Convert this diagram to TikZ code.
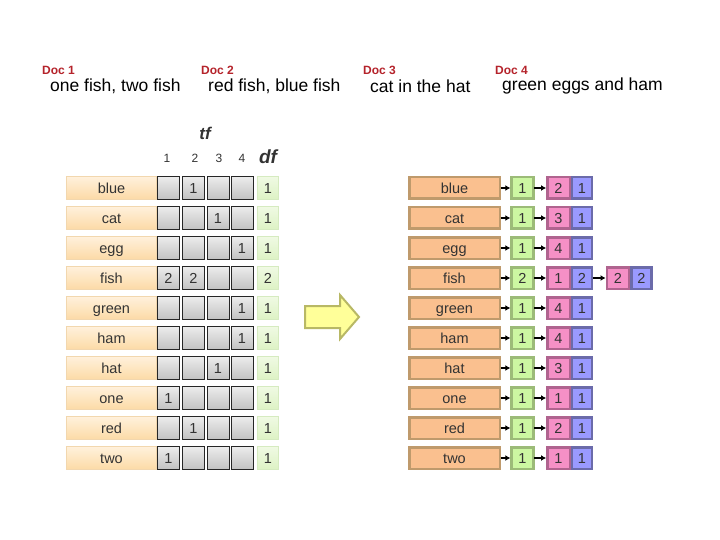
\documentclass[tikz,border=0pt]{standalone}
\usepackage{fontspec}
\setmainfont{Liberation Sans}
\usetikzlibrary{arrows.meta}
\definecolor{docred}{HTML}{B5232B}
\definecolor{txt}{HTML}{333333}
\definecolor{ltfill1}{HTML}{FFF1DC}
\definecolor{ltfill2}{HTML}{FCDAA6}
\definecolor{ltdraw}{HTML}{F2D7AE}
\definecolor{ldf1}{HTML}{F0FAE4}
\definecolor{ldf2}{HTML}{DDF2C4}
\definecolor{ldfdraw}{HTML}{D6EBC0}
\definecolor{rtfill}{HTML}{FAC08F}
\definecolor{rtdraw}{HTML}{BF9A6C}
\definecolor{rdffill}{HTML}{CCF7A2}
\definecolor{rdfdraw}{HTML}{9CBB78}
\definecolor{pkfill}{HTML}{F590C6}
\definecolor{pkdraw}{HTML}{B0648F}
\definecolor{blfill}{HTML}{9A9AFF}
\definecolor{bldraw}{HTML}{6B6BAA}
\definecolor{arrfill}{HTML}{FFFF99}
\definecolor{arrdraw}{HTML}{B8B865}
\tikzset{
  cellfont/.style={font=\fontsize{14.5}{14.5}\selectfont, text=txt, text height=10.5pt, text depth=0pt},
  lterm/.style={cellfont, draw=ltdraw, top color=ltfill1, bottom color=ltfill2, minimum width=90pt, minimum height=23pt, inner sep=0pt, line width=0.8pt},
  tfcell/.style={cellfont, draw=black!85, top color=gray!15, bottom color=gray!48, minimum width=22pt, minimum height=22.5pt, inner sep=0pt, line width=0.9pt},
  ldf/.style={cellfont, draw=ldfdraw, top color=ldf1, bottom color=ldf2, minimum width=21.5pt, minimum height=23pt, inner sep=0pt, line width=0.8pt},
  rterm/.style={cellfont, draw=rtdraw, fill=rtfill, line width=2.5pt, minimum width=90.5pt, minimum height=21.5pt, inner sep=0pt},
  rdf/.style={cellfont, draw=rdfdraw, fill=rdffill, line width=2.5pt, minimum width=22pt, minimum height=21.5pt, inner sep=0pt},
  pk/.style={cellfont, draw=pkdraw, fill=pkfill, line width=2.5pt, minimum width=22.5pt, minimum height=21.5pt, inner sep=0pt},
  bl/.style={cellfont, draw=bldraw, fill=blfill, line width=2.5pt, minimum width=20pt, minimum height=21.5pt, inner sep=0pt},
  link/.style={-{Latex[length=5pt,width=6pt]}, line width=1.5pt, black, shorten <=-0.5pt},
  doclabel/.style={anchor=west, inner sep=0pt, text=docred, font=\bfseries\fontsize{12}{12}\selectfont},
  doctext/.style={anchor=west, inner sep=0pt, font=\fontsize{17.5}{17.5}\selectfont},
  hdrnum/.style={inner sep=0pt, font=\fontsize{12}{12}\selectfont, text=txt},
  hdr/.style={inner sep=0pt, font=\bfseries\itshape\fontsize{17}{17}\selectfont, text=txt}
}
\begin{document}
\begin{tikzpicture}[x=1pt,y=-1pt]
\useasboundingbox[fill=white] (0,0) rectangle (720,540);
% documents
\node[doclabel] (d1) at (42,70) {Doc 1};
\node[doctext] (t1) at (50,86) {one fish, two fish};
\node[doclabel] (d2) at (201,70) {Doc 2};
\node[doctext] (t2) at (208,86) {red fish, blue fish};
\node[doclabel] (d3) at (363,70) {Doc 3};
\node[doctext] (t3) at (370,86) {cat in the hat};
\node[doclabel] (d4) at (495,70) {Doc 4};
\node[doctext] (t4) at (502,86) {green eggs and ham};
% headers
\node[hdr] (tf) at (205,133) {tf};
\node[hdrnum] (h1) at (167,158) {1};
\node[hdrnum] (h2) at (195,158) {2};
\node[hdrnum] (h3) at (219,158) {3};
\node[hdrnum] (h4) at (242,158) {4};
\node[hdr, font=\bfseries\itshape\fontsize{19}{19}\selectfont] (df) at (268,157) {df};
% rows
\foreach \t/\a/\b/\c/\d/\f/\p/\q [count=\i] in {
  blue/{}/1/{}/{}/1/2/1,
  cat/{}/{}/1/{}/1/3/1,
  egg/{}/{}/{}/1/1/4/1,
  fish/2/2/{}/{}/2/1/2,
  green/{}/{}/{}/1/1/4/1,
  ham/{}/{}/{}/1/1/4/1,
  hat/{}/{}/1/{}/1/3/1,
  one/1/{}/{}/{}/1/1/1,
  red/{}/1/{}/{}/1/2/1,
  two/1/{}/{}/{}/1/1/1}{
  \pgfmathsetmacro\y{158+30*\i}
  \node[lterm] (lt\i) at (111.5,\y) {\t};
  \node[tfcell] (ca\i) at (168.5,\y) {\a};
  \node[tfcell] (cb\i) at (193.5,\y) {\b};
  \node[tfcell] (cc\i) at (218,\y) {\c};
  \node[tfcell] (cd\i) at (242,\y) {\d};
  \node[ldf] (ldf\i) at (268,\y) {\f};
  \node[rterm] (rt\i) at (454.5,\y) {\t};
  \node[rdf] (rdf\i) at (522.5,\y) {\f};
  \node[pk] (pk\i) at (558.5,\y) {\p};
  \node[bl] (bl\i) at (582,\y) {\q};
  \draw[link] (rt\i.east) -- (rdf\i.west);
  \draw[link] (rdf\i.east) -- (pk\i.west);
}
% second posting for fish
\node[pk] (pk4b) at (618,278) {2};
\node[bl] (bl4b) at (641.5,278) {2};
\draw[link] (bl4) -- (pk4b);
% big arrow
\draw[draw=arrdraw, fill=arrfill, line width=2pt, line join=miter]
  (305,306) -- (340,306) -- (340,295) -- (359,317) -- (340,339) -- (340,328) -- (305,328) -- cycle;
\end{tikzpicture}
\end{document}
